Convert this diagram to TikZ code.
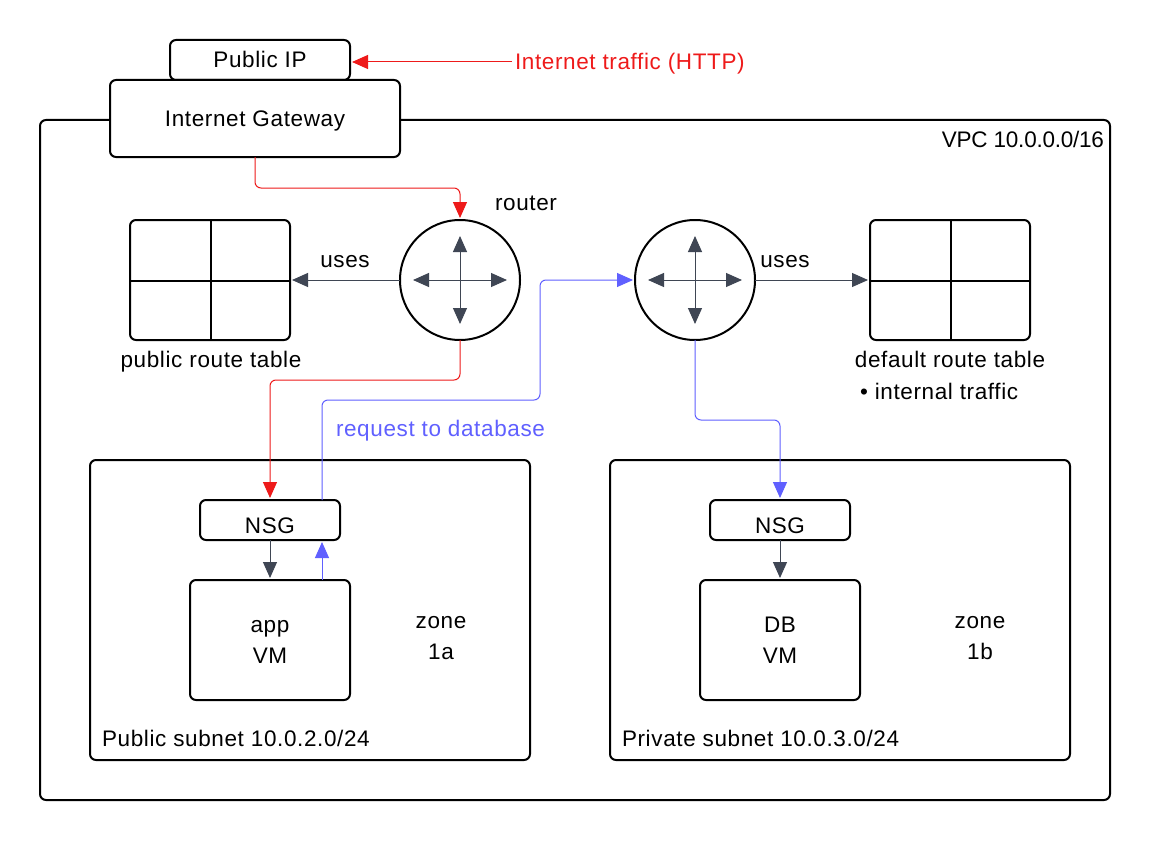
\documentclass[tikz,border=0pt]{standalone}
\usepackage{fontspec}
\setmainfont[LetterSpace=2.8]{Liberation Sans}
\newfontfamily\tightfont[LetterSpace=-1.0]{Liberation Sans}
\usetikzlibrary{arrows.meta,calc}
\definecolor{cred}{HTML}{EE1A1A}
\definecolor{cblue}{HTML}{6060FF}
\definecolor{cgrey}{HTML}{3F4654}
\newcommand{\tl}{\rule{0pt}{16pt}}
\tikzset{
  every node/.style={font=\fontsize{22.5}{31}\selectfont,inner sep=0pt,outer sep=0pt},
  tx/.style={text height=16pt,text depth=0pt},
  box/.style={draw=black,line width=2pt,rounded corners=6pt,fill=white,align=center},
  rout/.style={draw=black,line width=2pt,circle,minimum size=120pt,fill=white},
  conn/.style={-{Triangle[length=16pt,width=14pt]},line width=1pt,rounded corners=6pt,shorten >=2pt},
  redc/.style={conn,draw=cred},
  bluec/.style={conn,draw=cblue},
  greyc/.style={conn,draw=cgrey},
  inner arrow/.style={{Triangle[length=16pt,width=14pt]}-{Triangle[length=16pt,width=14pt]},line width=1pt,draw=cgrey},
  grid line/.style={draw=black,line width=2pt}
}
\begin{document}
\begin{tikzpicture}[x=1pt,y=-1pt]
\useasboundingbox (0,0) rectangle (1150,840);
% containers
\node[box,minimum width=1070pt,minimum height=680pt] (vpc) at (575,460) {};
\node[tx,anchor=east] (vpclabel) at (1104,139) {\tightfont VPC 10.0.0.0/16};
\node[box,tx,minimum width=180pt,minimum height=40pt] (pip) at (260,60) {Public IP};
\node[box,tx,minimum width=290pt,minimum height=77pt] (igw) at (255,118.5) {Internet Gateway};
\node[box,minimum width=440pt,minimum height=300pt] (subl) at (310,610) {};
\node[box,minimum width=460pt,minimum height=300pt] (subr) at (840,610) {};
\node[tx,anchor=west] (subllabel) at (102,738) {Public subnet 10.0.2.0/24};
\node[tx,anchor=west] (subrlabel) at (622,738) {Private subnet 10.0.3.0/24};
% route tables
\node[box,minimum width=160pt,minimum height=120pt] (tabl) at (210,280) {};
\node[box,minimum width=160pt,minimum height=120pt] (tabr) at (950,280) {};
\draw[grid line] ($(tabl.north)+(1,0)$) -- ($(tabl.south)+(1,0)$);
\draw[grid line] ($(tabl.west)+(0,1)$) -- ($(tabl.east)+(0,1)$);
\draw[grid line] ($(tabr.north)+(1,0)$) -- ($(tabr.south)+(1,0)$);
\draw[grid line] ($(tabr.west)+(0,1)$) -- ($(tabr.east)+(0,1)$);
\node[tx] (tabllabel) at (211,359) {public route table};
\node[tx] (tabrlabel) at (950,359) {default route table};
\node[tx,anchor=west] (tabrnote) at (860,391) {• internal traffic};
% routers
\node[rout] (rl) at (460,280) {};
\node[rout] (rr) at (695,280) {};
\node[tx] (routerlabel) at (526,202) {router};
\draw[inner arrow] ($(rl)+(-47,0)$) -- ($(rl)+(47,0)$);
\draw[inner arrow] ($(rl)+(0,-44)$) -- ($(rl)+(0,44)$);
\draw[inner arrow] ($(rr)+(-47,0)$) -- ($(rr)+(47,0)$);
\draw[inner arrow] ($(rr)+(0,-44)$) -- ($(rr)+(0,44)$);
% subnets content
\node[box,text height=26pt,text depth=0pt,minimum width=140pt,minimum height=40pt] (nsgl) at (270,520) {NSG};
\node[box,text height=26pt,text depth=0pt,minimum width=140pt,minimum height=40pt] (nsgr) at (780,520) {NSG};
\node[box,minimum width=160pt,minimum height=120pt] (vml) at (270,640) {\tl app\\VM};
\node[box,minimum width=160pt,minimum height=120pt] (vmr) at (780,640) {\tl DB\\VM};
\node[align=center] (zonel) at (441,636.5) {\tl zone\\1a};
\node[align=center] (zoner) at (980,636.5) {\tl zone\\1b};
% red connectors
\node[tx,anchor=west,text=cred] (inet) at (515,62) {Internet traffic (HTTP)};
\draw[redc,shorten <=3pt] (inet.west) -- (pip.east |- inet.west);
\coordinate (redone) at (360,188);
\draw[redc] (igw.south) |- (redone) -| (rl.north);
\coordinate (redtwo) at (360,380);
\draw[redc] (rl.south) |- (redtwo) -| (nsgl.north);
% blue connectors
\coordinate (nsgport) at ($(nsgl.north)+(52,0)$);
\coordinate (vmport) at ($(vml.north)+(52,0)$);
\coordinate (nsgportb) at ($(nsgl.south)+(52,0)$);
\coordinate (blueone) at (430,400);
\coordinate (bluetwo) at (540,340);
\draw[bluec] (nsgport) |- (blueone) -| (bluetwo) |- (rr.west);
\draw[bluec] (vmport) -- (nsgportb);
\coordinate (bluethree) at (740,420);
\draw[bluec] (rr.south) |- (bluethree) -| (nsgr.north);
\node[tx,anchor=west,text=cblue] (reqlabel) at (336,428) {request to database};
% grey connectors
\draw[greyc] (rl.west) -- (tabl.east);
\draw[greyc] (rr.east) -- (tabr.west);
\draw[greyc] (nsgl.south) -- (vml.north);
\draw[greyc] (nsgr.south) -- (vmr.north);
\node[tx] (usesl) at (345,259) {uses};
\node[tx] (usesr) at (785,259) {uses};
\end{tikzpicture}
\end{document}
